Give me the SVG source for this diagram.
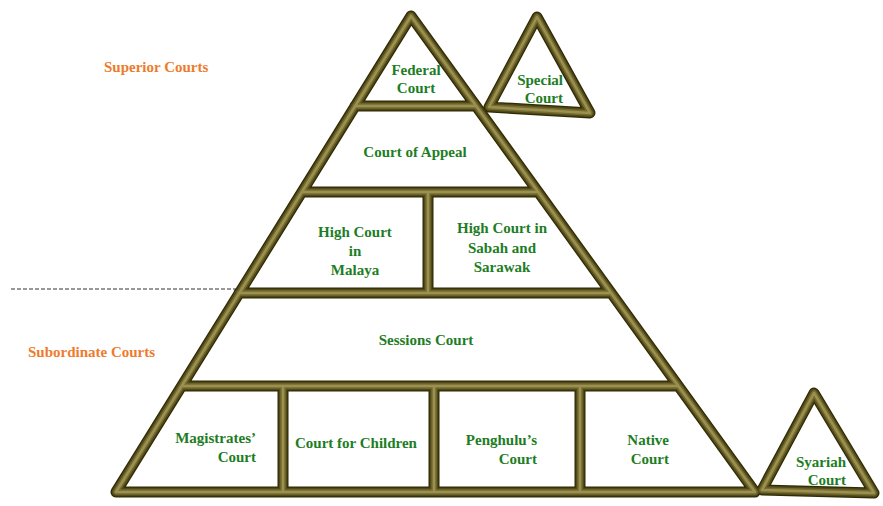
<svg xmlns="http://www.w3.org/2000/svg" width="883" height="506" viewBox="0 0 883 506">
<style>
.t1{fill:none;stroke:#2f2b05;stroke-width:11;stroke-linejoin:round;stroke-linecap:round}
.t2{fill:none;stroke:#51491a;stroke-width:8.5;stroke-linejoin:round;stroke-linecap:round}
.t3{fill:none;stroke:#766c2e;stroke-width:5.5;stroke-linejoin:round;stroke-linecap:round}
.t4{fill:none;stroke:#9a9052;stroke-width:2.5;stroke-linejoin:round;stroke-linecap:round}
.lbl{font-family:"Liberation Serif","Times New Roman","DejaVu Serif",serif;font-weight:bold;font-size:15px;fill:#1d7d24}
.tier{font-family:"Liberation Serif","Times New Roman","DejaVu Serif",serif;font-weight:bold;font-size:15px;fill:#ee7b2c}
.c{text-anchor:middle}
.e{text-anchor:end}
</style>
<defs>
<path id="framePath" d="M411,16 L116,492 L755,492 Z M355,106 H476 M302,192 H538 M239,293 H611 M182,386 H678 M428,192 V293 M283,386 V492 M434,386 V492 M580,386 V492 M537,17 L489,107 L590,113 Z M814,393 L762,490 L874,493 Z"/>
</defs>
<rect width="883" height="506" fill="#ffffff"/>
<g id="frame">
<use href="#framePath" class="t1"/>
<use href="#framePath" class="t2"/>
<use href="#framePath" class="t3"/>
<use href="#framePath" class="t4"/>
</g>
<g id="separator">
<line x1="11" y1="289" x2="237" y2="289" stroke="#333333" stroke-width="1" stroke-dasharray="4,2"/>
</g>
<g id="connectors"></g>
<g id="tier-superior"><text class="tier" x="104" y="72">Superior Courts</text></g>
<g id="tier-subordinate"><text class="tier" x="28" y="357">Subordinate Courts</text></g>
<g id="federal-court"><text class="lbl c" x="416" y="75">Federal</text><text class="lbl c" x="416" y="93">Court</text></g>
<g id="special-court"><text class="lbl e" x="563" y="85">Special</text><text class="lbl e" x="563" y="103">Court</text></g>
<g id="court-of-appeal"><text class="lbl c" x="415" y="157">Court of Appeal</text></g>
<g id="high-court-malaya"><text class="lbl c" x="355" y="237">High Court</text><text class="lbl c" x="355" y="256">in</text><text class="lbl c" x="355" y="275">Malaya</text></g>
<g id="high-court-sabah-sarawak"><text class="lbl c" x="502" y="233">High Court in</text><text class="lbl c" x="502" y="253">Sabah and</text><text class="lbl c" x="502" y="272">Sarawak</text></g>
<g id="sessions-court"><text class="lbl c" x="426" y="345">Sessions Court</text></g>
<g id="magistrates-court"><text class="lbl e" x="256" y="443">Magistrates’</text><text class="lbl e" x="256" y="462">Court</text></g>
<g id="court-for-children"><text class="lbl c" x="356" y="448">Court for Children</text></g>
<g id="penghulus-court"><text class="lbl e" x="537" y="445">Penghulu’s</text><text class="lbl e" x="537" y="464">Court</text></g>
<g id="native-court"><text class="lbl e" x="669" y="445">Native</text><text class="lbl e" x="669" y="464">Court</text></g>
<g id="syariah-court"><text class="lbl e" x="846" y="467">Syariah</text><text class="lbl e" x="846" y="485">Court</text></g>
</svg>
